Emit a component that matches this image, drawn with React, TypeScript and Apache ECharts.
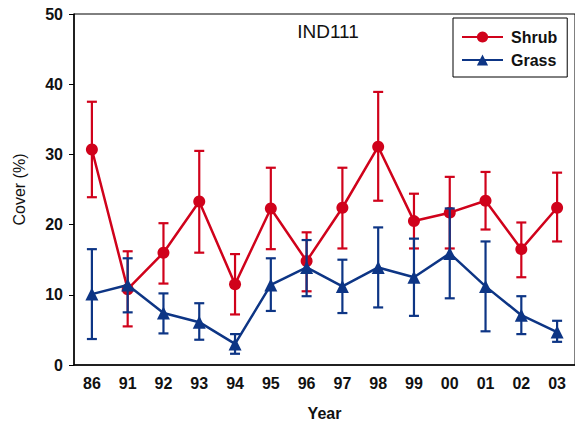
import React, { useEffect, useRef } from "react";
import * as echarts from "echarts";

const years = ["86", "91", "92", "93", "94", "95", "96", "97", "98", "99", "00", "01", "02", "03"];
const shrubMean = [30.7, 10.8, 16.0, 23.3, 11.5, 22.3, 14.8, 22.4, 31.1, 20.5, 21.7, 23.4, 16.5, 22.4];
const shrubLow = [23.9, 5.5, 11.6, 16.0, 7.2, 16.5, 10.5, 16.6, 23.4, 16.6, 16.6, 19.3, 12.5, 17.6];
const shrubHigh = [37.5, 16.2, 20.2, 30.5, 15.8, 28.1, 18.9, 28.1, 38.9, 24.4, 26.8, 27.5, 20.3, 27.4];
const grassMean = [10.1, 11.4, 7.4, 6.1, 3.0, 11.4, 13.9, 11.2, 13.9, 12.5, 15.9, 11.2, 7.1, 4.7];
const grassLow = [3.7, 7.5, 4.5, 3.6, 1.6, 7.7, 9.8, 7.4, 8.2, 7.0, 9.5, 4.8, 4.4, 3.3];
const grassHigh = [16.5, 15.2, 10.2, 8.8, 4.4, 15.2, 17.8, 15.0, 19.6, 18.0, 22.3, 17.6, 9.8, 6.3];

const RED = "#d0021b";
const BLUE = "#0d3585";
const FONT = "'Liberation Sans', Arial, sans-serif";

function errorSeries(name: string, low: number[], high: number[], color: string, z: number) {
  const data = years.map((_, i) => [i, low[i], high[i]]);
  return {
    type: "custom",
    name: name + "err",
    z,
    silent: true,
    data,
    renderItem: (params: any, api: any) => {
      const x = api.value(0);
      const lo = api.coord([x, api.value(1)]);
      const hi = api.coord([x, api.value(2)]);
      const hw = 5;
      const style = { stroke: color, lineWidth: 2.2, fill: "none" };
      return {
        type: "group",
        children: [
          { type: "line", shape: { x1: lo[0], y1: lo[1], x2: hi[0], y2: hi[1] }, style },
          { type: "line", shape: { x1: lo[0] - hw, y1: lo[1], x2: lo[0] + hw, y2: lo[1] }, style },
          { type: "line", shape: { x1: hi[0] - hw, y1: hi[1], x2: hi[0] + hw, y2: hi[1] }, style },
        ],
      };
    },
  };
}

export default function App() {
  const ref = useRef<HTMLDivElement>(null);
  useEffect(() => {
    if (!ref.current) return;
    const chart = echarts.init(ref.current, undefined, { renderer: "svg" });
    chart.setOption({
      animation: false,
      backgroundColor: "#ffffff",
      title: {
        text: "IND111",
        left: 323,
        top: 17,
        textAlign: "center",
        textStyle: { fontFamily: FONT, fontSize: 19, fontWeight: "normal", color: "#111" },
      },
      legend: {
        left: 453,
        top: 18,
        orient: "vertical",
        padding: [11, 10, 9, 8],
        itemGap: 7,
        itemWidth: 41,
        itemHeight: 14,
        borderColor: "#000",
        borderWidth: 1,
        data: ["Shrub", "Grass"],
        textStyle: { fontFamily: FONT, fontSize: 16, fontWeight: "bold", color: "#111", padding: [0, 0, 0, 3] },
      },
      grid: {
        left: 74,
        top: 14,
        width: 502,
        bottom: 60,
        show: true,
        borderColor: "#000",
        borderWidth: 1,
        backgroundColor: "transparent",
      },
      xAxis: {
        type: "category",
        data: years,
        boundaryGap: true,
        name: "Year",
        nameLocation: "middle",
        nameGap: 40,
        nameTextStyle: { fontFamily: FONT, fontSize: 16, fontWeight: "bold", color: "#111" },
        axisLine: { lineStyle: { color: "#000", width: 1.5 } },
        axisTick: { alignWithLabel: true, length: 4, lineStyle: { color: "#000" } },
        axisLabel: { fontFamily: FONT, fontSize: 16, fontWeight: "bold", color: "#111", margin: 10 },
        splitLine: { show: false },
      },
      yAxis: {
        type: "value",
        min: 0,
        max: 50,
        interval: 10,
        name: "Cover (%)",
        nameLocation: "middle",
        nameGap: 47,
        nameTextStyle: { fontFamily: FONT, fontSize: 16, color: "#111" },
        axisLine: { show: true, lineStyle: { color: "#000", width: 1.5 } },
        axisTick: { show: true, length: 5, lineStyle: { color: "#000" } },
        axisLabel: { fontFamily: FONT, fontSize: 16, fontWeight: "bold", color: "#111", margin: 11 },
        splitLine: { show: false },
      },
      series: [
        errorSeries("Shrub", shrubLow, shrubHigh, RED, 2),
        {
          type: "line",
          name: "Shrub",
          data: shrubMean,
          z: 3,
          symbol: "circle",
          symbolSize: 12,
          lineStyle: { color: RED, width: 2.5 },
          itemStyle: { color: RED },
        },
        errorSeries("Grass", grassLow, grassHigh, BLUE, 4),
        {
          type: "line",
          name: "Grass",
          data: grassMean,
          z: 5,
          symbol: "triangle",
          symbolSize: 13,
          lineStyle: { color: BLUE, width: 2.5 },
          itemStyle: { color: BLUE },
        },
      ],
    });
    return () => chart.dispose();
  }, []);
  return (
    <div
      ref={ref}
      style={{ position: "fixed", left: 0, top: 0, width: 575, height: 426, background: "#fff" }}
    />
  );
}
